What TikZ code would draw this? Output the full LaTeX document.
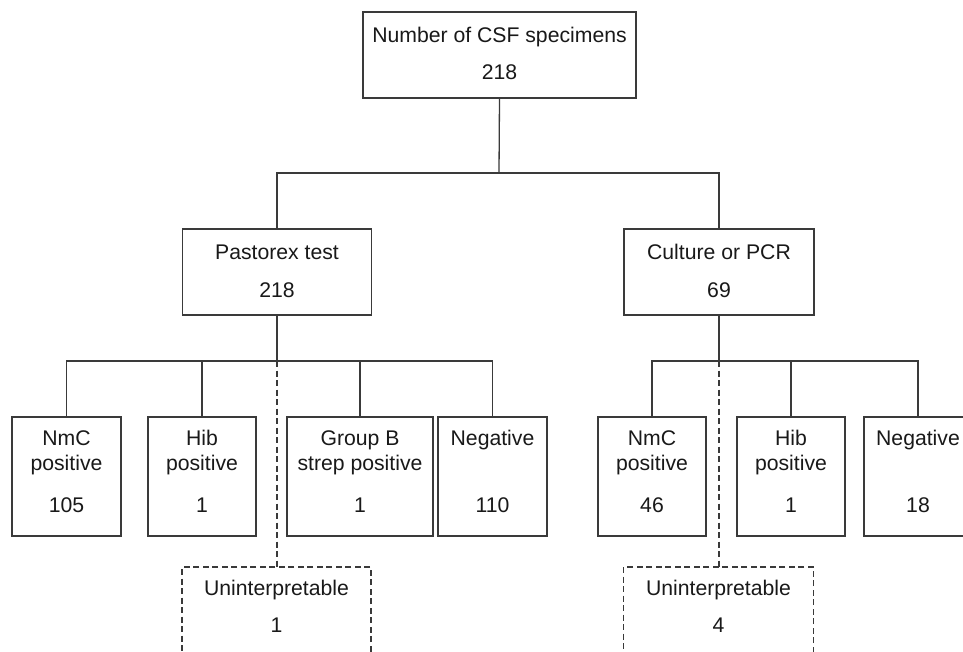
\documentclass[tikz,border=0pt]{standalone}
\usepackage{fontspec}
\setmainfont{Liberation Sans}
\definecolor{linec}{RGB}{58,58,58}
\definecolor{textc}{RGB}{25,25,25}
\begin{document}
\begin{tikzpicture}[x=1pt,y=-1pt,
  box/.style={draw=linec, line width=1.3pt, inner sep=0pt, outer sep=0pt, fill=none},
  dbox/.style={box, dash pattern=on 6pt off 3.5pt},
  conn/.style={draw=linec, line width=1.3pt},
  dconn/.style={conn, dash pattern=on 6pt off 3.5pt},
  txt/.style={anchor=base, inner sep=0pt, text=textc, font=\fontsize{21.2}{25}\selectfont}]
\useasboundingbox (0,0) rectangle (963,652);
\fill[white] (0,0) rectangle (963,652);
\clip (0,0) rectangle (963,652);
% boxes
\node[box, minimum width=273pt, minimum height=86pt] (top) at (499.5,55) {};
\node[box, minimum width=189pt, minimum height=86pt] (pas) at (277,272) {};
\node[box, minimum width=190pt, minimum height=86pt] (cul) at (719,272) {};
\node[box, minimum width=109pt, minimum height=119pt] (nmcL) at (66.5,476.5) {};
\node[box, minimum width=108pt, minimum height=119pt] (hibL) at (202,476.5) {};
\node[box, minimum width=146pt, minimum height=119pt] (grpB) at (360,476.5) {};
\node[box, minimum width=109pt, minimum height=119pt] (negL) at (492.5,476.5) {};
\node[box, minimum width=108pt, minimum height=119pt] (nmcR) at (652,476.5) {};
\node[box, minimum width=108pt, minimum height=119pt] (hibR) at (791,476.5) {};
\node[box, minimum width=108pt, minimum height=119pt] (negR) at (918,476.5) {};
\node[dbox, minimum width=189pt, minimum height=95pt] (unL) at (276.5,614.5) {};
\node[dbox, minimum width=190pt, minimum height=95pt] (unR) at (718.5,614.5) {};
% texts
\node[txt] (t1) at (499.5,43) {Number of CSF specimens};
\node[txt] (t2) at (499.5,80) {218};
\node[txt] (p1) at (277,260) {Pastorex test};
\node[txt] (p2) at (277,297) {218};
\node[txt] (c1) at (719,260) {Culture or PCR};
\node[txt] (c2) at (719,297) {69};
\node[txt] (a1) at (66.5,445) {NmC};
\node[txt] (a2) at (66.5,470) {positive};
\node[txt] (a3) at (66.5,512) {105};
\node[txt] (b1) at (202,445) {Hib};
\node[txt] (b2) at (202,470) {positive};
\node[txt] (b3) at (202,512) {1};
\node[txt] (g1) at (360,445) {Group B};
\node[txt] (g2) at (360,470) {strep positive};
\node[txt] (g3) at (360,512) {1};
\node[txt] (n1) at (492.5,445) {Negative};
\node[txt] (n3) at (492.5,512) {110};
\node[txt] (r1) at (652,445) {NmC};
\node[txt] (r2) at (652,470) {positive};
\node[txt] (r3) at (652,512) {46};
\node[txt] (h1) at (791,445) {Hib};
\node[txt] (h2) at (791,470) {positive};
\node[txt] (h3) at (791,512) {1};
\node[txt] (m1) at (918,445) {Negative};
\node[txt] (m3) at (918,512) {18};
\node[txt] (u1) at (276.5,595) {Uninterpretable};
\node[txt] (u2) at (276.5,632) {1};
\node[txt] (v1) at (718.5,595) {Uninterpretable};
\node[txt] (v2) at (718.5,632) {4};
% junctions
\coordinate (j0) at (499,173);
\coordinate (j1) at (277,361);
\coordinate (j2) at (719,361);
% connectors
\draw[conn] (top.south) -- (j0);
\draw[conn] (pas.north) |- (j0) -| (cul.north);
\draw[conn] (pas.south) -- (j1);
\draw[conn] (nmcL.north) |- (j1) -| (negL.north);
\draw[conn] (hibL.north) -- (hibL.north |- j1);
\draw[conn] (grpB.north) -- (grpB.north |- j1);
\draw[dconn] (j1) -- (unL.north -| j1);
\draw[conn] (cul.south) -- (j2);
\draw[conn] (nmcR.north) |- (j2) -| (negR.north);
\draw[conn] (hibR.north) -- (hibR.north |- j2);
\draw[dconn] (j2) -- (unR.north -| j2);
\end{tikzpicture}
\end{document}
